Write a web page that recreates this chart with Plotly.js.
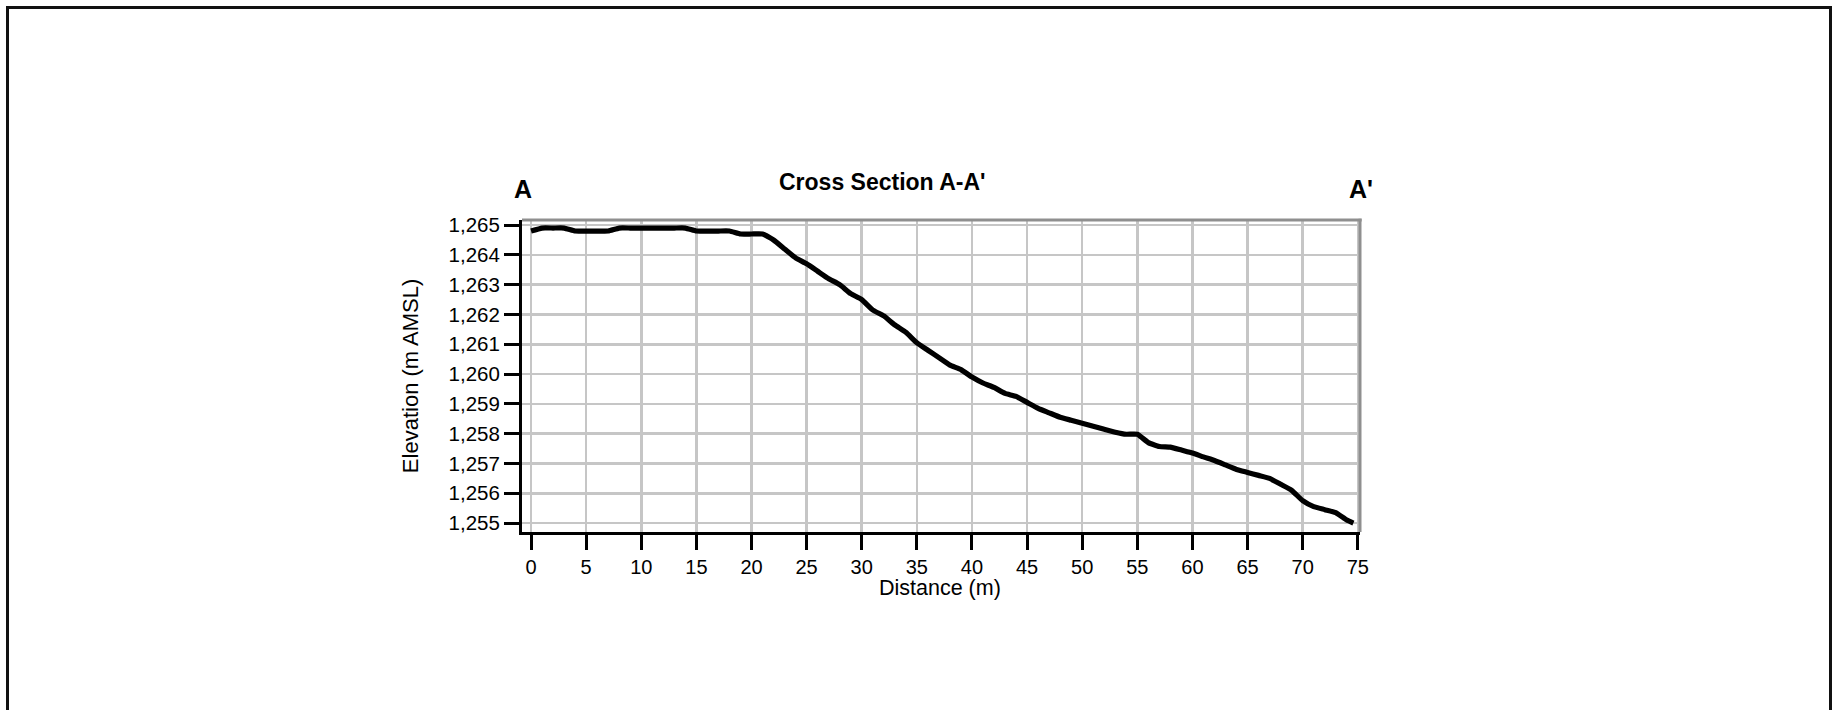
<!DOCTYPE html>
<html>
<head>
<meta charset="utf-8">
<script src="https://cdn.plot.ly/plotly-3.0.1.min.js"></script>
<style>
  html, body { margin: 0; padding: 0; background: #fff; }
  #wrap { position: relative; width: 1843px; height: 710px; overflow: hidden; }
  #chart { position: absolute; left: 0; top: 0; width: 1843px; height: 710px; }
  #frame { position: absolute; left: 6px; top: 6px; width: 1826px; height: 800px;
           box-sizing: border-box; border: 3px solid #111; pointer-events: none; }
</style>
</head>
<body>
<div id="wrap">
  <div id="chart"></div>
  <div id="frame"></div>
</div>
<script>
// Distance along section (m)
const distance = [0,1,2,3,4,5,6,7,8,9,10,11,12,13,14,15,16,17,18,19,20,21,22,23,24,25,26,27,28,29,30,31,32,33,34,35,36,37,38,39,40,41,42,43,44,45,46,47,48,49,50,51,52,53,54,55,56,57,58,59,60,61,62,63,64,65,66,67,68,69,70,71,72,73,74,74.6];
// Elevation (m AMSL)
const elevation = [1264.8,1264.9,1264.9,1264.9,1264.8,1264.8,1264.8,1264.8,1264.9,1264.9,1264.9,1264.9,1264.9,1264.9,1264.9,1264.8,1264.8,1264.8,1264.8,1264.7,1264.7,1264.7,1264.5,1264.2,1263.9,1263.7,1263.45,1263.2,1263.0,1262.7,1262.5,1262.15,1261.95,1261.65,1261.4,1261.05,1260.8,1260.55,1260.3,1260.15,1259.9,1259.7,1259.55,1259.35,1259.25,1259.05,1258.85,1258.7,1258.55,1258.45,1258.35,1258.25,1258.15,1258.05,1257.98,1257.98,1257.7,1257.57,1257.55,1257.45,1257.35,1257.22,1257.1,1256.95,1256.8,1256.7,1256.6,1256.5,1256.3,1256.1,1255.75,1255.55,1255.45,1255.35,1255.1,1255.0];

const xTicks = [0,5,10,15,20,25,30,35,40,45,50,55,60,65,70,75];
const yTicks = [1255,1256,1257,1258,1259,1260,1261,1262,1263,1264,1265];

const chartTitle = "Cross Section A-A'";
const startLabel = "A";
const endLabel = "A'";
const xTitle = "Distance (m)";
const yTitle = "Elevation (m AMSL)";

const FONT = "Liberation Sans, Arial, sans-serif";

const trace = {
  x: distance, y: elevation, type: 'scatter', mode: 'lines',
  line: { color: '#000', width: 5.2, shape: 'spline', smoothing: 0.4 },
  hoverinfo: 'x+y'
};

const layout = {
  width: 1843, height: 710,
  margin: { l: 522, r: 483, t: 220, b: 178, pad: 0 },
  paper_bgcolor: '#fff', plot_bgcolor: '#fff',
  showlegend: false,
  font: { family: FONT, size: 20, color: '#000' },
  xaxis: {
    range: [-0.82, 75.2], tickmode: 'array', tickvals: xTicks,
    ticks: 'outside', ticklen: 15, tickwidth: 3, tickcolor: '#000',
    showline: true, linecolor: '#000', linewidth: 3,
    showgrid: true, gridcolor: '#c6c6c6', gridwidth: 2.5,
    zeroline: false, tickfont: { family: FONT, size: 20, color: '#000' }
  },
  yaxis: {
    range: [1254.7, 1265.17], tickmode: 'array', tickvals: yTicks,
    tickformat: ',d',
    ticks: 'outside', ticklen: 15, tickwidth: 3, tickcolor: '#000',
    showline: true, linecolor: '#000', linewidth: 3,
    showgrid: true, gridcolor: '#c6c6c6', gridwidth: 2.5,
    zeroline: false, tickfont: { family: FONT, size: 20.5, color: '#000' }
  },
  shapes: [
    { type: 'line', xref: 'paper', yref: 'paper', x0: 0, x1: 1.002, y0: 1, y1: 1,
      line: { color: '#8f8f8f', width: 3 } },
    { type: 'line', xref: 'paper', yref: 'paper', x0: 1, x1: 1, y0: 0, y1: 1.004,
      line: { color: '#8f8f8f', width: 3 } }
  ],
  annotations: [
    { text: '<b>' + chartTitle + '</b>', xref: 'paper', yref: 'paper',
      x: 0.4296, y: 1.1217, xanchor: 'center', yanchor: 'middle', showarrow: false,
      font: { family: FONT, size: 23, color: '#000' } },
    { text: '<b>' + startLabel + '</b>', xref: 'paper', yref: 'paper',
      x: 0.001, y: 1.098, xanchor: 'center', yanchor: 'middle', showarrow: false,
      font: { family: FONT, size: 25, color: '#000' } },
    { text: '<b>' + endLabel + '</b>', xref: 'paper', yref: 'paper',
      x: 1.001, y: 1.098, xanchor: 'center', yanchor: 'middle', showarrow: false,
      font: { family: FONT, size: 25, color: '#000' } },
    { text: xTitle, xref: 'paper', yref: 'paper',
      x: 0.4985, y: -0.181, xanchor: 'center', yanchor: 'middle', showarrow: false,
      font: { family: FONT, size: 21.5, color: '#000' } },
    { text: yTitle, xref: 'paper', yref: 'paper', textangle: -90,
      x: -0.1335, y: 0.5, xanchor: 'center', yanchor: 'middle', showarrow: false,
      font: { family: FONT, size: 22, color: '#000' } }
  ]
};

Plotly.newPlot('chart', [trace], layout, { displayModeBar: false, staticPlot: true });
</script>
</body>
</html>
